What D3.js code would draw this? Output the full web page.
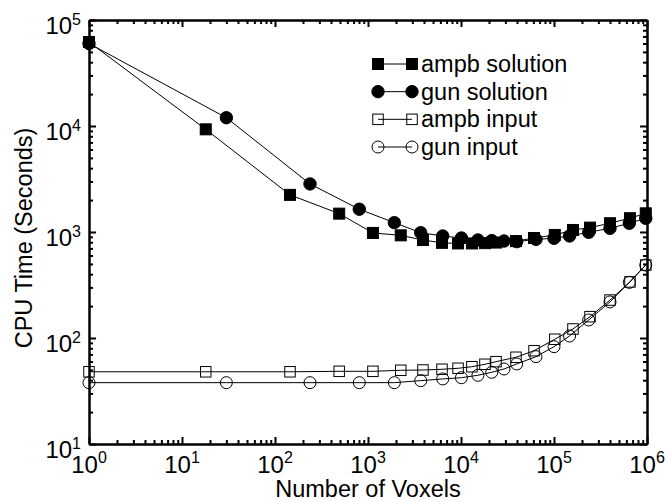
<!DOCTYPE html>
<html>
<head>
<meta charset="utf-8">
<script src="https://cdn.jsdelivr.net/npm/d3@7"></script>
<style>
  body { margin: 0; background: #fff; }
  text { font-family: "Liberation Sans", Arial, sans-serif; fill: #000; }
</style>
</head>
<body>
<script>
var w = 666;
var h = 502;

// data
var seriesNames = ["ampb solution", "gun solution", "ampb input", "gun input"];
var ampbVoxels = [1, 18, 145, 490, 1130, 2250, 3900, 6250, 9300, 13100, 18100, 23800, 39000, 61000, 102000, 160000, 244000, 400000, 656000, 970000];
var gunVoxels = [1, 30, 238, 806, 1920, 3690, 6360, 10100, 15200, 21400, 29000, 39700, 64000, 100000, 147000, 236000, 400000, 645000, 970000];
var ampbSolution = [62000, 9300, 2240, 1490, 980, 930, 840, 790, 780, 780, 785, 795, 820, 878, 938, 1045, 1100, 1210, 1350, 1500];
var gunSolution = [60000, 11970, 2840, 1640, 1225, 985, 917, 878, 841, 830, 822, 811, 853, 873, 917, 993, 1084, 1209, 1346];
var ampbInput = [48, 48, 48, 48.5, 48.5, 49.6, 49.9, 50.7, 51.8, 53.6, 56.5, 59.8, 65.8, 75.9, 97.3, 121.6, 159, 228, 338, 488];
var gunInput = [37.9, 37.9, 37.9, 37.9, 37.9, 39.6, 41.1, 42.2, 44.5, 47.5, 51, 56.9, 66.7, 82.8, 104.5, 148, 219, 335, 488];
var xExps = [0, 1, 2, 3, 4, 5, 6];
var yExps = [1, 2, 3, 4, 5];

var series = [
  {name: seriesNames[0], xs: ampbVoxels, ys: ampbSolution, shape: "square", filled: true},
  {name: seriesNames[1], xs: gunVoxels, ys: gunSolution, shape: "circle", filled: true},
  {name: seriesNames[2], xs: ampbVoxels, ys: ampbInput, shape: "square", filled: false},
  {name: seriesNames[3], xs: gunVoxels, ys: gunInput, shape: "circle", filled: false}
];

var pLeft = 89, pRight = 647, pTop = 20, pBottom = 444;

var svg = d3.select("body").append("svg")
  .attr("width", w)
  .attr("height", h)
  .style("background-color", "white");

var x = d3.scaleLog().domain([1, 1e6]).range([pLeft, pRight]);
var y = d3.scaleLog().domain([10, 1e5]).range([pBottom, pTop]);

var xMajor = xExps.map(function(e){ return Math.pow(10, e); });
var yMajor = yExps.map(function(e){ return Math.pow(10, e); });
var xMinor = [], yMinor = [];
for (var e = 0; e < 6; e++) for (var k = 2; k < 10; k++) xMinor.push(k * Math.pow(10, e));
for (var e2 = 1; e2 < 5; e2++) for (var k2 = 2; k2 < 10; k2++) yMinor.push(k2 * Math.pow(10, e2));

function styleAxis(g) {
  g.selectAll("path").attr("stroke", "#000").attr("stroke-width", 2);
  g.selectAll("line").attr("stroke", "#000").attr("stroke-width", 2);
  g.selectAll("text").remove();
}

// ticks point inward on all four sides
[[xMajor, -7], [xMinor, -4]].forEach(function(t){
  svg.append("g").attr("transform", "translate(0," + pBottom + ")")
    .call(d3.axisBottom(x).tickValues(t[0]).tickSizeInner(t[1]).tickSizeOuter(0).tickFormat(""))
    .call(styleAxis);
  svg.append("g").attr("transform", "translate(0," + pTop + ")")
    .call(d3.axisTop(x).tickValues(t[0]).tickSizeInner(t[1]).tickSizeOuter(0).tickFormat(""))
    .call(styleAxis);
});
[[yMajor, -7], [yMinor, -4]].forEach(function(t){
  svg.append("g").attr("transform", "translate(" + pLeft + ",0)")
    .call(d3.axisLeft(y).tickValues(t[0]).tickSizeInner(t[1]).tickSizeOuter(0).tickFormat(""))
    .call(styleAxis);
  svg.append("g").attr("transform", "translate(" + pRight + ",0)")
    .call(d3.axisRight(y).tickValues(t[0]).tickSizeInner(t[1]).tickSizeOuter(0).tickFormat(""))
    .call(styleAxis);
});

// tick labels with superscript exponents
var xl = svg.selectAll(".xlab").data(xExps).join("text")
  .attr("class", "xlab")
  .attr("x", function(d){ return x(Math.pow(10, d)); })
  .attr("y", pBottom + 29)
  .attr("text-anchor", "middle")
  .style("font-size", "24px");
xl.append("tspan").text("10");
xl.append("tspan").attr("dy", -10).style("font-size", "16px").text(function(d){ return d; });

var yl = svg.selectAll(".ylab").data(yExps).join("text")
  .attr("class", "ylab")
  .attr("x", pLeft - 8)
  .attr("y", function(d){ return y(Math.pow(10, d)) + 14; })
  .attr("text-anchor", "end")
  .style("font-size", "24px");
yl.append("tspan").text("10");
yl.append("tspan").attr("dy", -9).style("font-size", "16px").text(function(d){ return d; });

svg.append("text")
  .attr("x", (pLeft + pRight) / 2)
  .attr("y", 497)
  .attr("text-anchor", "middle")
  .style("font-size", "23.5px")
  .text("Number of Voxels");

svg.append("text")
  .attr("transform", "translate(32,238) rotate(-90)")
  .attr("text-anchor", "middle")
  .style("font-size", "23.5px")
  .text("CPU Time (Seconds)");

function drawMarker(sel, s, px, py) {
  if (s.shape === "square") {
    var sz = s.filled ? 11 : 10.5;
    sel.append("rect")
      .attr("x", px - sz / 2).attr("y", py - sz / 2)
      .attr("width", sz).attr("height", sz)
      .attr("fill", s.filled ? "#000" : "none")
      .attr("stroke", "#000").attr("stroke-width", 1);
  } else {
    sel.append("circle")
      .attr("cx", px).attr("cy", py)
      .attr("r", s.filled ? 6.2 : 6)
      .attr("fill", s.filled ? "#000" : "none")
      .attr("stroke", "#000").attr("stroke-width", 1);
  }
}

var line = d3.line()
  .x(function(d){ return x(d[0]); })
  .y(function(d){ return y(d[1]); });

series.forEach(function(s){
  var pts = s.xs.map(function(v, i){ return [v, s.ys[i]]; });
  var g = svg.append("g");
  g.append("path")
    .attr("d", line(pts))
    .attr("fill", "none")
    .attr("stroke", "#000")
    .attr("stroke-width", 1);
  pts.forEach(function(p){ drawMarker(g, s, x(p[0]), y(p[1])); });
});

// legend
var legY = d3.scaleLinear().domain([0, 3]).range([64, 147]);
series.forEach(function(s, i){
  var g = svg.append("g");
  var ly = legY(i);
  g.append("line")
    .attr("x1", 378).attr("x2", 412)
    .attr("y1", ly).attr("y2", ly)
    .attr("stroke", "#000").attr("stroke-width", 1);
  drawMarker(g, s, 378, ly);
  drawMarker(g, s, 412, ly);
  g.append("text")
    .attr("x", 421)
    .attr("y", ly + 8)
    .style("font-size", "23.5px")
    .text(s.name);
});
</script>
</body>
</html>
